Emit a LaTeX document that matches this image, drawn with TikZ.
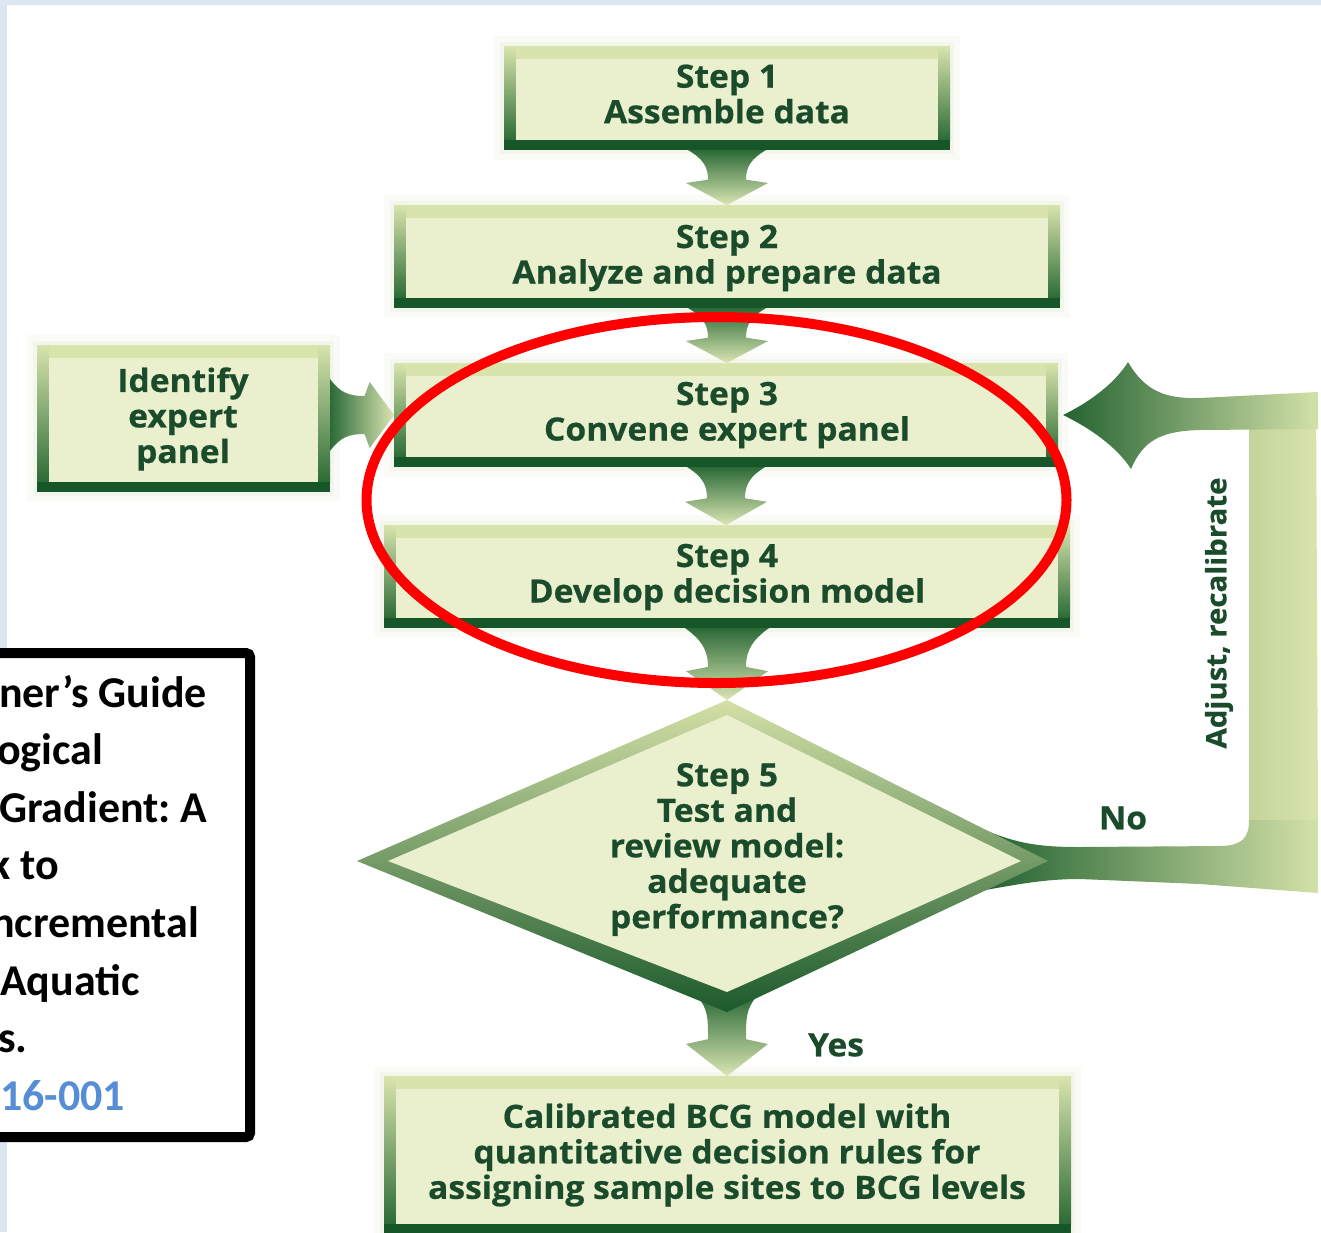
\documentclass[tikz,border=0pt]{standalone}
\usepackage{fontspec}
\newfontfamily\gfont{Open Sans}[FakeStretch=1.05, BoldFeatures={FakeBold=0.6}]
\newfontfamily\calib{Carlito}
\usetikzlibrary{calc,shapes.geometric}

\definecolor{slide}{HTML}{DCE6F2}
\definecolor{gtext}{HTML}{1A4B2A}
\definecolor{gband}{HTML}{175629}
\definecolor{gedge}{HTML}{2C6B36}
\definecolor{gtop}{HTML}{D9E4AD}
\definecolor{ginner}{HTML}{EAF0CE}
\definecolor{adark}{HTML}{2B6A37}
\definecolor{alight}{HTML}{DAE6B2}
\definecolor{fbdark}{HTML}{236331}
\definecolor{fbmid}{HTML}{6F9C60}
\definecolor{fblight}{HTML}{D3E1A8}
\definecolor{fbvleft}{HTML}{C2D499}
\definecolor{fbvright}{HTML}{D8E4AC}
\definecolor{dtop}{HTML}{D3E0A6}
\definecolor{dmid}{HTML}{86A86C}
\definecolor{ddark}{HTML}{1C5A2C}
\definecolor{glowa}{HTML}{FAFBF7}
\definecolor{glowb}{HTML}{F3F6EC}
\definecolor{linkblue}{HTML}{558ED5}

% a vertical "tulip" arrow from one anchor down to another
\newcommand\vflow[3]{%
  \shade[top color=adark, bottom color=alight]
    let \p1=(#1), \p2=(#2), \n1={\y1-\y2} in
    ({\x1-#3pt},\y1)
      .. controls ({\x1-0.62*#3pt},{\y1-0.16*\n1}) and ({\x1-19pt},{\y1-0.3*\n1}) .. ({\x1-19pt},{\y1-0.54*\n1})
      -- ({\x1-41pt},{\y1-0.6*\n1}) -- (\x1,\y2) -- ({\x1+41pt},{\y1-0.6*\n1})
      -- ({\x1+19pt},{\y1-0.54*\n1})
      .. controls ({\x1+19pt},{\y1-0.3*\n1}) and ({\x1+0.62*#3pt},{\y1-0.16*\n1}) .. ({\x1+#3pt},\y1)
      -- cycle;}

\tikzset{
  gbox/.style={rectangle, inner sep=0pt, outer sep=0pt, fill=gtop,
    preaction={draw=glowa, line width=20pt},
    preaction={draw=glowb, line width=8pt},
    path picture={
      \coordinate (pnw) at (path picture bounding box.north west);
      \coordinate (pse) at (path picture bounding box.south east);
      \shade[top color=gtop, middle color=gtop!60!gedge, bottom color=gedge]
        (pnw) rectangle ($(pse -| pnw)+(12,-10)$);
      \shade[top color=gtop, middle color=gtop!60!gedge, bottom color=gedge]
        ($(pnw -| pse)+(-12,0)$) rectangle ($(pse)+(0,-10)$);
      \fill[ginner] ($(pnw)+(12,13)$) rectangle ($(pse)+(-12,-10)$);
      \fill[gband] ($(pse -| pnw)+(0,-10)$) rectangle (pse);
    }},
  gtxt/.style={font={\gfont\bfseries\fontsize{32pt}{35.5pt}\selectfont},
    text=gtext, align=center, inner sep=0pt},
  btxt/.style={font={\calib\bfseries\frenchspacing\fontsize{44pt}{52pt}\selectfont},
    text=black, inner sep=0pt, anchor=base west},
}

\begin{document}
\begin{tikzpicture}[x=1pt, y=-1pt]
\useasboundingbox (0,0) rectangle (1321,1232);

% slide background and picture area
\fill[slide] (0,0) rectangle (1321,1232);
\fill[white] (7,5) rectangle (1321,1232);

% process boxes
\node[gbox, minimum width=446pt, minimum height=104pt] (s1) at (727,98) {};
\node[gbox, minimum width=666pt, minimum height=103pt] (s2) at (727,256.5) {};
\node[gbox, minimum width=664pt, minimum height=104pt] (s3) at (726,415) {};
\node[gbox, minimum width=686pt, minimum height=103pt] (s4) at (727,576.5) {};
\node[gbox, minimum width=293pt, minimum height=147pt] (idp) at (183.5,418.5) {};
\node[gbox, minimum width=687pt, minimum height=158pt] (fin) at (727.5,1155) {};

% decision diamond corners
\coordinate (d5n) at (727,700);
\coordinate (d5e) at (1048,861);
\coordinate (d5s) at (727,1012);
\coordinate (d5w) at (357,861);

% flow arrows
\vflow{s1.south}{s2.north}{39}
\vflow{s2.south}{s3.north}{39}
\vflow{s3.south}{s4.north}{39}
\vflow{s4.south}{d5n}{42}
\vflow{$(d5s)+(0,-16)$}{fin.north}{30}

\shade[left color=adark, right color=alight]
  let \p1=(idp.east), \p2=(s3.west), \n1={\x2-\x1} in
  (\x1,{\y2+36pt})
    .. controls ({\x1+0.16*\n1},{\y2+22pt}) and ({\x1+0.3*\n1},{\y2+19pt}) .. ({\x1+0.54*\n1},{\y2+19pt})
    -- ({\x1+0.62*\n1},{\y2+33pt}) -- (\x2,\y2) -- ({\x1+0.62*\n1},{\y2-33pt})
    -- ({\x1+0.54*\n1},{\y2-19pt})
    .. controls ({\x1+0.3*\n1},{\y2-19pt}) and ({\x1+0.16*\n1},{\y2-22pt}) .. (\x1,{\y2-36pt})
    -- cycle;

% feedback loop: "No" back to step 3
\coordinate (fbS) at (d5e);
\coordinate (fbE) at ([xshift=5pt]s3.east);
\shade[left color=fbvleft, right color=fbvright]
  ($(fbE)+(186,0)$) -- ($(fbE)+(253,-23)$) -- ($(fbS)+(270,-41)$) -- ($(fbS)+(201,-41)$) -- cycle;
\shade[left color=fbdark, middle color=fbmid, right color=fblight]
  ($(fbS)+(-63,-31)$)
    .. controls ($(fbS)+(-28,-16)$) and ($(fbS)+(-3,-14)$) .. ($(fbS)+(32,-14)$)
    -- ($(fbS)+(174,-15)$)
    .. controls ($(fbS)+(194,-16)$) and ($(fbS)+(201,-23)$) .. ($(fbS)+(201,-41)$)
    -- ($(fbS)+(270,-41)$) -- ($(fbS)+(270,32)$) -- ($(fbS)+(152,23)$) -- ($(fbS)+(32,18)$)
    .. controls ($(fbS)+(-3,18)$) and ($(fbS)+(-28,23)$) .. ($(fbS)+(-63,29)$)
    -- cycle;
\shade[left color=fbdark, middle color=fbmid, right color=fblight]
  ($(fbE)+(255,-23)$) -- ($(fbE)+(137,-17)$)
    .. controls ($(fbE)+(102,-16)$) and ($(fbE)+(82,-24)$) .. ($(fbE)+(65,-53)$)
    .. controls ($(fbE)+(52,-32)$) and ($(fbE)+(27,-13)$) .. (fbE)
    .. controls ($(fbE)+(27,13)$) and ($(fbE)+(54,32)$) .. ($(fbE)+(68,54)$)
    .. controls ($(fbE)+(80,26)$) and ($(fbE)+(97,16)$) .. ($(fbE)+(137,15)$)
    -- ($(fbE)+(255,14)$) -- cycle;

% decision diamond
\shade[top color=dtop, middle color=dmid, bottom color=ddark]
  (d5n) -- (d5e) -- (d5s) -- (d5w) -- cycle;
\fill[ginner] ($(d5n)+(0,15)$) -- ($(d5e)+(-27,0)$) -- ($(d5s)+(0,-20)$) -- ($(d5w)+(31,0)$) -- cycle;

% texts
\node[gtxt] (s1t) at (727,94) {Step 1\\Assemble data};
\node[gtxt] (s2t) at (727,258) {Step 2\\Analyze and prepare data};
\node[gtxt] (s3t) at (727,415) {Step 3\\Convene expert panel};
\node[gtxt] (s4t) at (727,577) {Step 4\\Develop decision model};
\node[gtxt] (idpt) at (183,419) {Identify\\expert\\panel};
\node[gtxt] (d5t) at (727,849.5) {Step 5\\Test and\\review model:\\adequate\\performance?};
\node[gtxt] (fint) at (727,1155) {Calibrated BCG model with\\quantitative decision rules for\\assigning sample sites to BCG levels};
\node[gtxt, font={\gfont\bfseries\fontsize{28pt}{32pt}\selectfont}, rotate=90] (adj) at (1219,613) {Adjust, recalibrate};
\node[gtxt] (no) at (1123,818) {No};
\node[gtxt] (yes) at (836,1045) {Yes};

% highlight around steps 3 and 4
\node[draw=red, line width=10pt, ellipse, inner sep=0pt,
      minimum width=700pt, minimum height=366pt] (hl) at (716.5,500) {};

% reference box
\node[draw=black, fill=white, line width=10pt, rounded corners=4pt, inner sep=0pt,
      minimum width=265pt, minimum height=484pt] (refbox) at (117.5,895) {};
\node[btxt] (r1) at (-1,707) {ner’s Guide};
\node[btxt] (r2) at (-3,764) {ogical};
\node[btxt] (r3) at (-1,822) {Gradient: A};
\node[btxt] (r4) at (-11,879) {k to};
\node[btxt] (r5) at (-9,937) {ncremental};
\node[btxt] (r6) at (0,995) {Aquatic};
\node[btxt] (r7) at (-2,1052) {s.};
\node[btxt, text=linkblue] (r8) at (0,1110) {16-001};
\end{tikzpicture}
\end{document}
